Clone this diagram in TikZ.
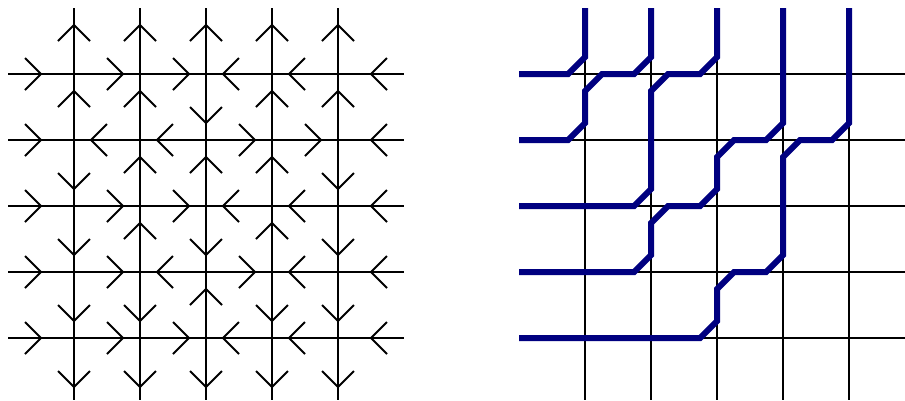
\documentclass[tikz,border=0pt]{standalone}
\definecolor{pathblue}{RGB}{0,0,128}
\begin{document}
\begin{tikzpicture}[x=1bp,y=-1bp,
  gridline/.style={line width=1.8bp, black},
  chev/.style={line width=1.8bp, black},
  pathline/.style={line width=6bp, pathblue},
  chevR/.pic={\draw[chev] (-16,-16) -- (0,0) -- (-16,16);},
  chevL/.pic={\draw[chev] (16,-16) -- (0,0) -- (16,16);},
  chevU/.pic={\draw[chev] (-16,16) -- (0,0) -- (16,16);},
  chevD/.pic={\draw[chev] (-16,-16) -- (0,0) -- (16,-16);}]
\useasboundingbox (0,0) rectangle (905,400);
% ---------- left: arrow configuration ----------
\foreach \v in {74,140,206,272,338} {
  \draw[gridline] (8,\v) -- (404,\v);
  \draw[gridline] (\v,8) -- (\v,400);
  \pic at (41,\v) {chevR};
  \pic at (371,\v) {chevL};
  \pic at (\v,25) {chevU};
  \pic at (\v,387) {chevD};
}
% horizontal interior edges
\foreach \d/\x/\y in {
  R/123/74, R/189/74, L/223/74, L/289/74,
  L/91/140, L/157/140, R/255/140, R/321/140,
  R/123/206, R/189/206, L/223/206, L/289/206,
  R/123/272, L/157/272, R/255/272, L/289/272,
  R/123/338, R/189/338, L/223/338, L/289/338}
  \pic at (\x,\y) {chev\d};
% vertical interior edges
\foreach \d/\x/\y in {
  U/74/91, U/140/91, D/206/123, U/272/91, U/338/91,
  D/74/189, U/140/157, U/206/157, U/272/157, D/338/189,
  D/74/255, U/140/223, D/206/255, U/272/223, D/338/255,
  D/74/321, D/140/321, U/206/289, D/272/321, D/338/321}
  \pic at (\x,\y) {chev\d};
% ---------- right: lattice paths ----------
\foreach \v in {74,140,206,272,338}
  \draw[gridline] (519,\v) -- (905,\v);
\foreach \u in {585,651,717,783,849}
  \draw[gridline] (\u,8) -- (\u,400);
\draw[pathline] (519,74) -- (568,74) -- (585,57) -- (585,8);
\draw[pathline] (519,140) -- (568,140) -- (585,123) -- (585,91) -- (602,74)
  -- (634,74) -- (651,57) -- (651,8);
\draw[pathline] (519,206) -- (634,206) -- (651,189) -- (651,91) -- (668,74)
  -- (700,74) -- (717,57) -- (717,8);
\draw[pathline] (519,272) -- (634,272) -- (651,255) -- (651,223) -- (668,206)
  -- (700,206) -- (717,189) -- (717,157) -- (734,140) -- (766,140)
  -- (783,123) -- (783,8);
\draw[pathline] (519,338) -- (700,338) -- (717,321) -- (717,289) -- (734,272)
  -- (766,272) -- (783,255) -- (783,157) -- (800,140) -- (832,140)
  -- (849,123) -- (849,8);
\end{tikzpicture}
\end{document}
